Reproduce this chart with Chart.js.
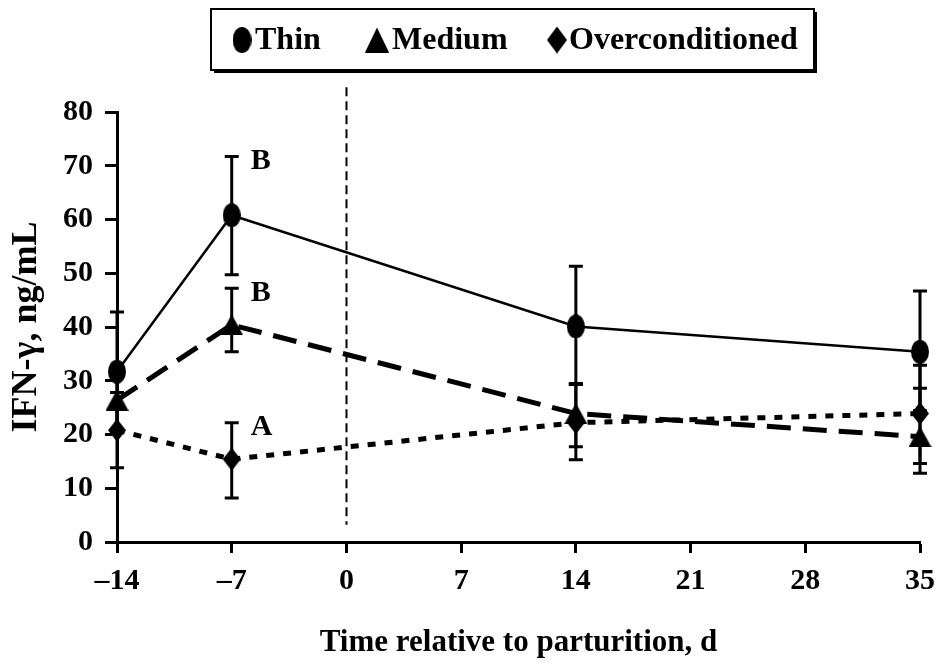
<!DOCTYPE html>
<html><head><meta charset="utf-8">
<script src="https://cdn.jsdelivr.net/npm/chart.js@4/dist/chart.umd.min.js"></script>
<style>html,body{margin:0;padding:0;background:#fff}#wrap{width:939px;height:665px}</style>
</head><body><div id="wrap"><canvas id="c" width="939" height="665"></canvas></div>
<script>
// ---- data ----
const days = [-14, -7, 14, 35];
const xTickValues = [-14, -7, 0, 7, 14, 21, 28, 35];
const yTickValues = [0, 10, 20, 30, 40, 50, 60, 70, 80];
const seriesNames = ['Thin', 'Medium', 'Overconditioned'];
const thinValues = [31.7, 60.8, 40.1, 35.4];
const thinUpper  = [42.8, 71.7, 51.3, 46.7];
const thinLower  = [20.6, 49.7, 29.3, 24.4];
const mediumValues = [26.4, 40.4, 23.9, 19.6];
const mediumUpper  = [32.4, 47.2, 29.5, 28.6];
const mediumLower  = [20.4, 35.4, 17.7, 12.8];
const overValues = [20.8, 15.4, 22.2, 23.9];
const overUpper  = [27.8, 22.2, 29.3, 32.9];
const overLower  = [13.8, 8.2, 15.3, 14.6];
const sigLetters = ['B', 'B', 'A'];
const sigDay = -7;
const partDay = 0;

const FONT = '"Liberation Serif", "Times New Roman", serif';

function shapeCanvas(kind, w, h) {
  const c = document.createElement('canvas');
  c.width = w; c.height = h;
  const g = c.getContext('2d');
  g.fillStyle = '#000';
  g.beginPath();
  if (kind === 'circle') {
    g.ellipse(w / 2, h / 2, w / 2, h / 2, 0, 0, Math.PI * 2);
  } else if (kind === 'triangle') {
    g.moveTo(w / 2, 0); g.lineTo(w, h); g.lineTo(0, h); g.closePath();
  } else {
    g.moveTo(w / 2, 0); g.lineTo(w, h / 2); g.lineTo(w / 2, h); g.lineTo(0, h / 2); g.closePath();
  }
  g.fill();
  return c;
}

const styles = [
  {marker: shapeCanvas('circle', 18, 24), legendMarker: shapeCanvas('circle', 19, 26), width: 2.5, dash: []},
  {marker: shapeCanvas('triangle', 23, 21), legendMarker: shapeCanvas('triangle', 24, 25), width: 5, dash: [24, 12]},
  {marker: shapeCanvas('diamond', 18, 23), legendMarker: shapeCanvas('diamond', 20, 27), width: 5, dash: [8, 9]}
];
const values = [thinValues, mediumValues, overValues];
const uppers = [thinUpper, mediumUpper, overUpper];
const lowers = [thinLower, mediumLower, overLower];

const datasets = seriesNames.map((n, i) => ({
  label: n,
  data: days.map((d, j) => ({x: d, y: values[i][j]})),
  borderColor: '#000', backgroundColor: '#000',
  borderWidth: styles[i].width, borderDash: styles[i].dash,
  pointStyle: styles[i].marker, pointRadius: 10,
  tension: 0, fill: false, clip: false
}));

const extras = {
  id: 'extras',
  beforeDatasetsDraw(chart) {
    const {ctx, scales: {x, y}} = chart;
    ctx.save();
    ctx.strokeStyle = '#000'; ctx.lineWidth = 2; ctx.setLineDash([9, 5]);
    const px = Math.round(x.getPixelForValue(partDay)) + 0.5;
    ctx.beginPath(); ctx.moveTo(px, y.getPixelForValue(84.6)); ctx.lineTo(px, y.getPixelForValue(3.2)); ctx.stroke();
    ctx.setLineDash([]);
    ctx.lineWidth = 3;
    for (let i = 0; i < 3; i++) {
      days.forEach((d, j) => {
        const cx = x.getPixelForValue(d);
        const yt = y.getPixelForValue(uppers[i][j]);
        const yb = y.getPixelForValue(lowers[i][j]);
        ctx.beginPath();
        ctx.moveTo(cx, yt); ctx.lineTo(cx, yb);
        ctx.moveTo(cx - 7, yt); ctx.lineTo(cx + 7, yt);
        ctx.moveTo(cx - 7, yb); ctx.lineTo(cx + 7, yb);
        ctx.stroke();
      });
    }
    ctx.restore();
  },
  afterDraw(chart) {
    const {ctx, scales: {x, y}} = chart;
    ctx.save();
    ctx.fillStyle = '#000';
    ctx.font = 'bold 30px ' + FONT;
    ctx.textAlign = 'left'; ctx.textBaseline = 'middle';
    const j = days.indexOf(sigDay);
    sigLetters.forEach((t, i) => {
      ctx.fillText(t, x.getPixelForValue(sigDay) + 19, y.getPixelForValue(uppers[i][j]) + 5);
    });
    // legend box
    const bx = 211, by = 9, bw = 603, bh = 61;
    ctx.fillRect(bx + 3, by + bh, bw, 3);
    ctx.fillRect(bx + bw, by + 3, 3, bh);
    ctx.lineWidth = 2; ctx.strokeStyle = '#000';
    ctx.strokeRect(bx, by, bw, bh);
    ctx.font = 'bold 32px ' + FONT;
    const items = [{mx: 242, tx: 255}, {mx: 377, tx: 392}, {mx: 557, tx: 569}];
    seriesNames.forEach((n, i) => {
      const m = styles[i].legendMarker;
      ctx.drawImage(m, items[i].mx - m.width / 2, 40 - m.height / 2);
      ctx.fillText(n, items[i].tx, 41);
    });
    ctx.restore();
  }
};

const tickFont = {family: FONT, size: 30, weight: 'bold'};
new Chart(document.getElementById('c'), {
  type: 'line',
  data: {datasets},
  options: {
    responsive: false, animation: false,
    layout: {padding: {left: 0, right: 19, top: 112, bottom: 0}},
    plugins: {legend: {display: false}, tooltip: {enabled: false}},
    elements: {line: {borderCapStyle: 'butt'}},
    scales: {
      x: {
        type: 'linear', min: -14, max: 35,
        afterBuildTicks: s => { s.ticks = xTickValues.map(v => ({value: v})); },
        afterFit: s => { s.height = 123; s.paddingRight = 0; s.paddingLeft = 0; },
        ticks: {color: '#000', font: tickFont, padding: 10,
          callback: v => v < 0 ? '\u2013' + Math.abs(v) : String(v)},
        grid: {drawOnChartArea: false, tickLength: 11, tickWidth: 3, tickColor: '#000'},
        border: {color: '#000', width: 3},
        title: {display: true, text: 'Time relative to parturition, d', color: '#000',
          font: {family: FONT, size: 31, weight: 'bold'}, padding: {top: 0, bottom: 3}}
      },
      y: {
        min: 0, max: 80,
        afterBuildTicks: s => { s.ticks = yTickValues.map(v => ({value: v})); },
        afterFit: s => { s.width = 117; },
        ticks: {color: '#000', font: tickFont, padding: 12},
        grid: {drawOnChartArea: false, tickLength: 12, tickWidth: 3, tickColor: '#000'},
        border: {color: '#000', width: 3},
        title: {display: true, text: 'IFN-\u03b3, ng/mL', color: '#000',
          font: {family: FONT, size: 36, weight: 'bold'}, padding: {top: 5, bottom: 0}}
      }
    }
  },
  plugins: [extras]
});
</script></body></html>
